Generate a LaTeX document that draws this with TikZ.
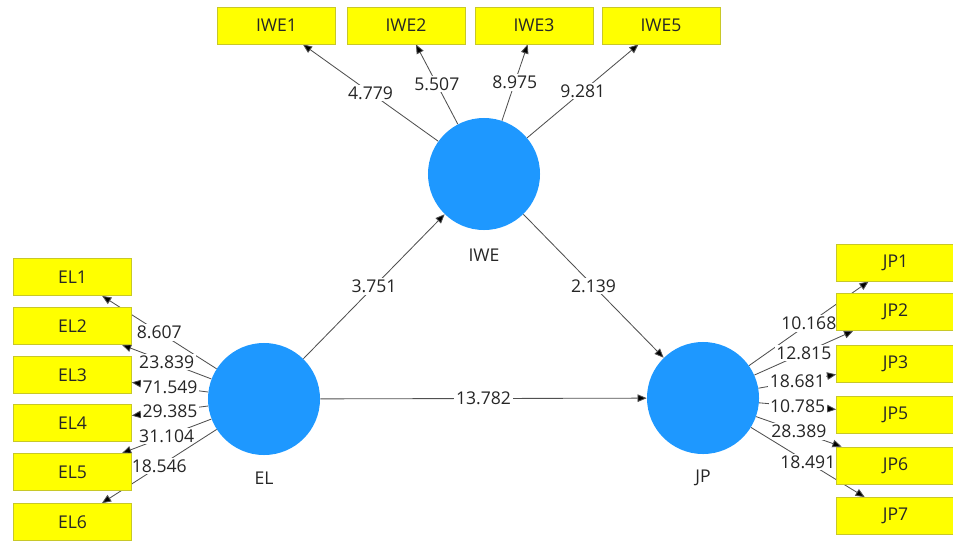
\documentclass[tikz,border=0pt]{standalone}
\usepackage{fontspec}
\setmainfont{Open Sans}
\usepackage{tikz}
\usetikzlibrary{positioning, calc, arrows.meta}
\definecolor{latentblue}{RGB}{30,152,255}
\definecolor{itemyellow}{RGB}{255,255,0}
\definecolor{itemedge}{RGB}{200,200,40}
\definecolor{pathgray}{RGB}{80,80,80}
\pgfdeclarelayer{back}
\pgfsetlayers{back,main}

\begin{document}
\begin{tikzpicture}[x=0.025cm, y=-0.025cm,
  every node/.style={font=\fontsize{12.5pt}{15pt}\selectfont, text=black!85},
  latent/.style={circle, fill=latentblue, minimum size=2.8cm, inner sep=0pt},
  item/.style={rectangle, draw=itemedge, fill=itemyellow, minimum width=2.95cm, minimum height=0.93cm, inner sep=0pt},
  path/.style={draw=pathgray, line width=0.6pt, -{Triangle[length=2.3mm, width=1.9mm, fill=black]}},
  val/.style={fill=white, inner sep=1.2pt, midway}]
  \useasboundingbox (0,0) rectangle (953,541);
  \node[latent] (iwe) at (484,174) {};
  \node[latent] (el) at (264,399) {};
  \node[latent] (jp) at (703,398) {};
  \node (iwename) at (484,255) {IWE};
  \node (elname) at (264,478) {EL};
  \node (jpname) at (703,478) {JP};
  \node[item] (iwe1) at (276.5,25.5) {IWE1};
  \node[item] (iwe2) at (406,25.5) {IWE2};
  \node[item] (iwe3) at (534,25.5) {IWE3};
  \node[item] (iwe5) at (661,25.5) {IWE5};
  \node[item] (el1) at (72.5,277) {EL1};
  \node[item] (el2) at (72.5,326) {EL2};
  \node[item] (el3) at (72.5,375) {EL3};
  \node[item] (el4) at (72.5,423) {EL4};
  \node[item] (el5) at (72.5,472) {EL5};
  \node[item] (el6) at (72.5,522) {EL6};
  \node[item] (jp1) at (895.5,262.5) {JP1};
  \node[item] (jp2) at (895.5,312) {JP2};
  \node[item] (jp3) at (895.5,364) {JP3};
  \node[item] (jp5) at (895.5,414.5) {JP5};
  \node[item] (jp6) at (895.5,465.5) {JP6};
  \node[item] (jp7) at (895.5,516) {JP7};
  \begin{pgfonlayer}{back}
    % structural paths
    \draw[path] (el) -- (iwe) node[val] {3.751};
    \draw[path] (iwe) -- (jp) node[val] {2.139};
    \draw[path] (el) -- (jp) node[val] {13.782};
    % IWE items
    \draw[path] (iwe) -- (iwe1) node[val] {4.779};
    \draw[path] (iwe) -- (iwe2) node[val] {5.507};
    \draw[path] (iwe) -- (iwe3) node[val] {8.975};
    \draw[path] (iwe) -- (iwe5) node[val] {9.281};
    % EL items
    \draw[path] (el) -- (el1) node[val] {8.607};
    \draw[path] (el) -- (el2) node[val] {23.839};
    \draw[path] (el) -- (el3) node[val] {71.549};
    \draw[path] (el) -- (el4) node[val] {29.385};
    \draw[path] (el) -- (el5) node[val] {31.104};
    \draw[path] (el) -- (el6) node[val] {18.546};
    % JP items
    \draw[path] (jp) -- (jp1) node[val] {10.168};
    \draw[path] (jp) -- (jp2) node[val] {12.815};
    \draw[path] (jp) -- (jp3) node[val] {18.681};
    \draw[path] (jp) -- (jp5) node[val] {10.785};
    \draw[path] (jp) -- (jp6) node[val] {28.389};
    \draw[path] (jp) -- (jp7) node[val] {18.491};
  \end{pgfonlayer}
\end{tikzpicture}
\end{document}
